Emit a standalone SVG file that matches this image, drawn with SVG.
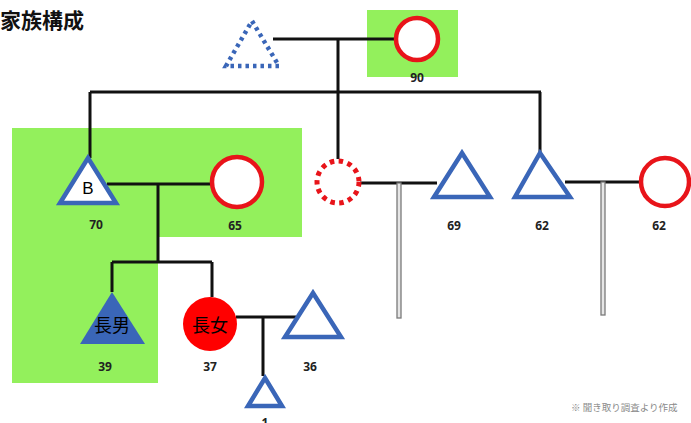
<svg xmlns="http://www.w3.org/2000/svg" width="691" height="423" viewBox="0 0 691 423">
<style>
.bg{fill:#93f05c}
.ln{stroke:#111;stroke-width:3;fill:none}
.gr{fill:#e6e6e6;stroke:#7a7a7a;stroke-width:1.3}
.m{fill:#fff;stroke:#3a66b8;stroke-width:4.5;stroke-linejoin:miter}
.f{fill:#fff;stroke:#e8141a;stroke-width:4.5}
.lbl{font-family:"Noto Sans","Liberation Sans",sans-serif;font-weight:bold;font-size:12px;fill:#222;text-anchor:middle}
.in{font-family:"Noto Sans CJK JP","Liberation Sans",sans-serif;font-size:18px;fill:#000;text-anchor:middle}
</style>
<rect width="691" height="423" fill="#fff"/>
<text x="0" y="28" font-family="Noto Sans CJK JP, sans-serif" font-weight="bold" font-size="21" fill="#111">家族構成</text>
<g id="bgs">
<rect class="bg" x="367" y="10" width="91" height="67"/>
<path class="bg" d="M12 128H302V237H158V383H12Z"/>
</g>
<g id="connectors">
<path class="ln" d="M273 39H395M338 39V159M90 92H541M90 92V158M540 92V152M107 184H212M158 184V262M112 262H212M112 262V292M212 262V297M236 317H296M263 317V376M360 183H437M565 182H641"/>
<rect class="gr" x="397" y="183" width="4" height="135"/>
<rect class="gr" x="601" y="182" width="4" height="133"/>
</g>
<g id="gf"><path d="M252 21L279 66H226Z" fill="none" stroke="#3a66b8" stroke-width="4.5" stroke-dasharray="3.5 4"/></g>
<g id="gm"><circle class="f" cx="417" cy="39" r="21"/><text class="lbl" x="417" y="82">90</text></g>
<g id="b"><path class="m" d="M88 158L116 203H60Z"/><text x="88" y="194" font-family="Liberation Sans,sans-serif" font-size="17" fill="#000" text-anchor="middle">B</text><text class="lbl" x="96" y="229">70</text></g>
<g id="w65"><circle class="f" cx="237" cy="182" r="25"/><text class="lbl" x="235" y="230">65</text></g>
<g id="aunt"><circle cx="338" cy="182" r="21" fill="#fff" stroke="#e8141a" stroke-width="5" stroke-dasharray="4.5 4.5"/></g>
<g id="u69"><path class="m" d="M462 153L490 197H434Z"/><text class="lbl" x="454" y="230">69</text></g>
<g id="u62"><path class="m" d="M540 153L570 197H515Z"/><text class="lbl" x="542" y="230">62</text></g>
<g id="a62"><circle class="f" cx="665" cy="182" r="24"/><text class="lbl" x="659" y="230">62</text></g>
<g id="son"><path d="M112 292L145 344H80Z" fill="#3a66b8"/><text class="in" x="112" y="332">長男</text><text class="lbl" x="105" y="371">39</text></g>
<g id="dau"><circle cx="210" cy="324" r="27" fill="#ff0000"/><text class="in" x="210" y="332">長女</text><text class="lbl" x="210" y="371">37</text></g>
<g id="h36"><path class="m" d="M313 293L341 337H285Z"/><text class="lbl" x="310" y="371">36</text></g>
<g id="c1"><path class="m" d="M265 378L282 406H248Z"/><text class="lbl" x="265" y="427">1</text></g>
<text x="571" y="411" font-family="Noto Sans CJK JP, sans-serif" font-size="9.5" fill="#8a8a8a">※ 聞き取り調査より作成</text>
</svg>
